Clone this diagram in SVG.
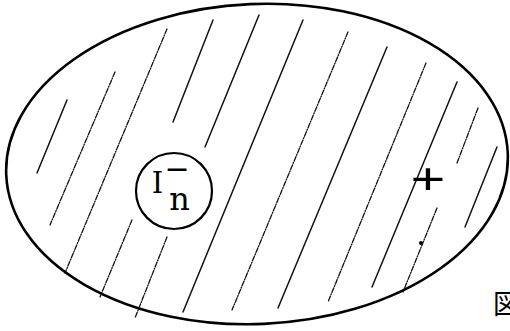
<svg xmlns="http://www.w3.org/2000/svg" width="510" height="331" viewBox="0 0 510 331">
  <style>
    .outline { fill: none; stroke: #000; stroke-width: 2.6; }
    .hatch { fill: none; stroke: #111; stroke-width: 1.5; stroke-linecap: round; }
    .dotted { stroke-dasharray: 5 1.5 1 1.5; stroke-width: 1.3; }
    .lbl { font-family: "DejaVu Serif", "Liberation Serif", serif; fill: #000; }
  </style>
  <rect width="510" height="331" fill="#fff"/>
  <g id="hatching">
    <line class="hatch" x1="67" y1="100" x2="37" y2="173"/>
    <line class="hatch dotted" x1="115" y1="72" x2="50" y2="225"/>
    <line class="hatch dotted" x1="167" y1="29" x2="65" y2="273"/>
    <line class="hatch" x1="213" y1="20" x2="173" y2="122"/>
    <line class="hatch dotted" x1="132" y1="220" x2="100" y2="297"/>
    <line class="hatch" x1="259" y1="15" x2="205" y2="147"/>
    <line class="hatch dotted" x1="167" y1="237" x2="135" y2="318"/>
    <line class="hatch" x1="303" y1="20" x2="183" y2="312"/>
    <line class="hatch dotted" x1="348" y1="32" x2="232" y2="310"/>
    <line class="hatch" x1="387" y1="47" x2="278" y2="308"/>
    <line class="hatch dotted" x1="426" y1="63" x2="328" y2="302"/>
    <line class="hatch" x1="457" y1="82" x2="372" y2="287"/>
    <line class="hatch dotted" x1="478" y1="108" x2="457" y2="163"/>
    <line class="hatch dotted" x1="437" y1="208" x2="403" y2="292"/>
    <circle cx="421" cy="243" r="2" fill="#000"/>
    <line class="hatch" x1="497" y1="147" x2="465" y2="227"/>
  </g>
  <g id="region">
    <ellipse class="outline" cx="257" cy="164" rx="251" ry="160" transform="rotate(-2.5 257 164)"/>
  </g>
  <g id="ion">
    <circle cx="174" cy="191" r="38" fill="#fff" stroke="#000" stroke-width="2.2"/>
    <text class="lbl" x="157.5" y="193" font-size="29" text-anchor="middle">I<tspan x="177" y="179" font-family="DejaVu Sans, sans-serif" font-size="30">−</tspan><tspan x="179.5" y="210" font-size="32">n</tspan></text>
  </g>
  <g id="charge">
    <text x="0" y="18" font-family="Liberation Sans, Arial, sans-serif" font-size="52" text-anchor="middle" transform="translate(428 179) scale(1.15 0.85)">+</text>
  </g>
  <g id="caption">
    <text x="493" y="314" font-family="Liberation Sans, 'Noto Sans CJK JP', sans-serif" font-size="27">図</text>
  </g>
</svg>
